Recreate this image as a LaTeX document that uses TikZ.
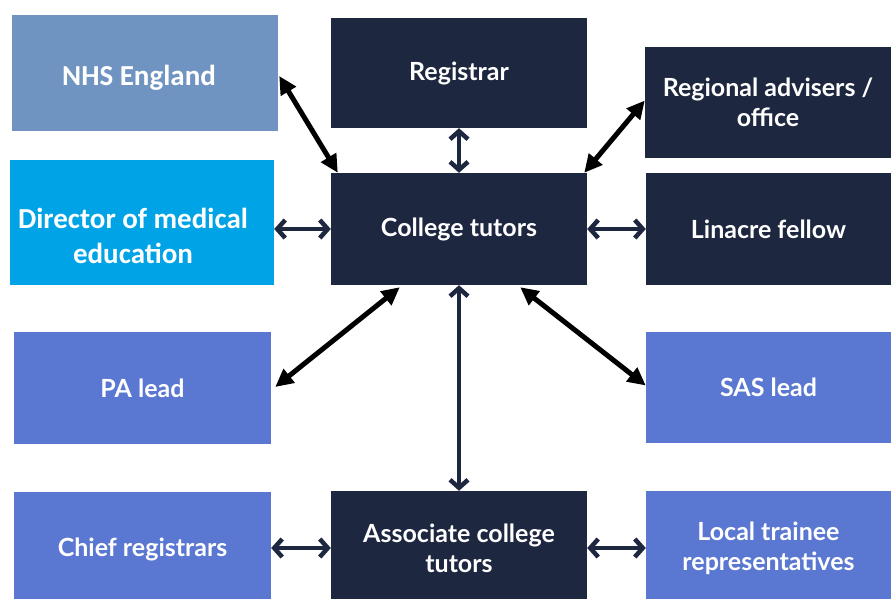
\documentclass[tikz,border=0pt]{standalone}
\usepackage{fontspec}
\setmainfont{Lato}
\newfontfamily\calfont{Carlito}
\usetikzlibrary{arrows.meta, positioning}

\definecolor{navybox}{HTML}{1E2740}
\definecolor{nhsblue}{HTML}{7094C2}
\definecolor{dmecyan}{HTML}{00A3E6}
\definecolor{leadblue}{HTML}{5A77D2}

\tikzset{
	box/.style={rectangle, draw=none, text=white, align=center, inner sep=0pt,
		font=\fontsize{25}{30}\selectfont\bfseries},
	calbox/.style={rectangle, draw=none, inner sep=0pt},
	caltxt/.style={text=white, align=center, inner sep=0pt,
		font=\calfont\fontsize{29}{35}\selectfont\bfseries},
	navarr/.style={{Straight Barb[length=8pt,width=18pt]}-{Straight Barb[length=8pt,width=18pt]},
		line width=4.5pt, draw=navybox},
	blkarr/.style={{Triangle[length=18pt,width=17pt]}-{Triangle[length=18pt,width=17pt]},
		line width=5pt, draw=black}
}

\begin{document}
\begin{tikzpicture}[x=1pt, y=-1pt]
		\clip (0,0) rectangle (891,598);
		\fill[white] (0,0) rectangle (891,598);
		%draw top row
		\node[calbox, fill=nhsblue, minimum width=266pt, minimum height=116pt] (nhs) at (145,73) {};
		\node[caltxt] (nhstxt) at ([xshift=-6pt,yshift=-5pt]nhs.center) {NHS England};
		\node[box, fill=navybox, minimum width=256pt, minimum height=110pt] (reg) at (459,73) {Registrar};
		\node[box, fill=navybox, minimum width=246pt, minimum height=111pt] (rao) at (768,102.5) {Regional advisers /\\office};
		%draw middle row
		\node[calbox, fill=dmecyan, minimum width=264pt, minimum height=125pt] (dme) at (142,222.5) {};
		\node[caltxt] (dmetxt) at ([xshift=-9pt,yshift=-13pt]dme.center) {Director of medical\\education};
		\node[box, fill=navybox, minimum width=256pt, minimum height=112pt] (ct) at (459,229) {College tutors};
		\node[box, fill=navybox, minimum width=245pt, minimum height=112pt] (lf) at (768.5,229) {Linacre fellow};
		%draw leads
		\node[box, fill=leadblue, minimum width=257pt, minimum height=112pt] (pa) at (142.5,388) {PA lead};
		\node[box, fill=leadblue, minimum width=245pt, minimum height=111pt] (sas) at (768.5,387.5) {SAS lead};
		%draw bottom row
		\node[box, fill=leadblue, minimum width=257pt, minimum height=114pt] (cr) at (142.5,549) {Chief registrars};
		\node[box, fill=navybox, minimum width=256pt, minimum height=114pt] (act) at (459,548) {Associate college\\tutors};
		\node[box, fill=leadblue, minimum width=245pt, minimum height=114pt] (ltr) at (768.5,548) {Local trainee\\representatives};

		%draw navy arrows
		\draw[navarr] (reg) -- (ct);
		\draw[navarr] (dme.east |- ct.west) -- (ct.west);
		\draw[navarr] (ct) -- (lf);
		\draw[navarr] (ct) -- (act);
		\draw[navarr] (cr.east |- act.west) -- (act.west);
		\draw[navarr] (act.east) -- (ltr.west |- act.east);
		%draw black arrows
		\draw[blkarr] ([xshift=1pt,yshift=-3pt]nhs.east) -- ([xshift=7pt]ct.north west);
		\draw[blkarr] ([yshift=2pt]rao.west) -- ([xshift=-3pt]ct.north east);
		\draw[blkarr] ([xshift=69pt,yshift=-2pt]ct.south west) -- ([xshift=4pt,yshift=1pt]pa.east);
		\draw[blkarr] ([xshift=-67pt,yshift=-2pt]ct.south east) -- ([yshift=2pt]sas.west);
\end{tikzpicture}
\end{document}
